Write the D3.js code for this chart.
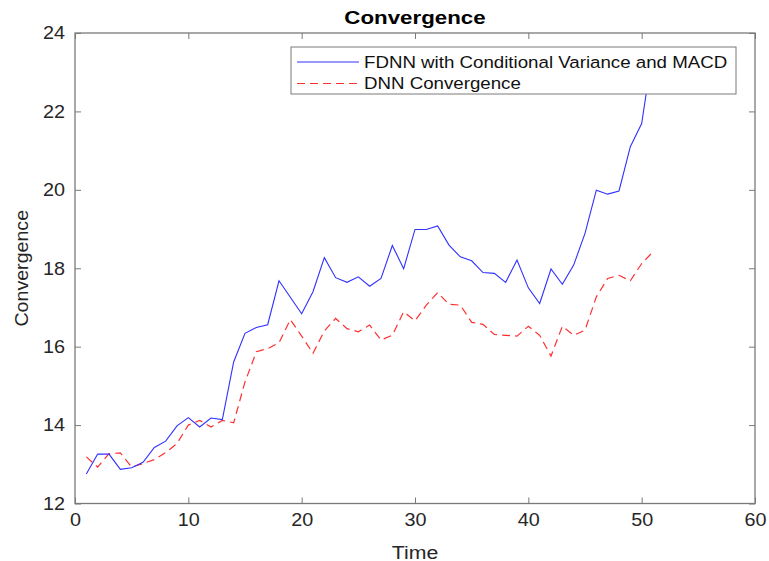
<!DOCTYPE html>
<meta charset="utf-8">
<script src="https://d3js.org/d3.v7.min.js"></script>
<style>
  body { margin: 0; background: #fff; }
  text { font-family: "Liberation Sans", Arial, sans-serif; }
</style>
<div id="chart"></div>
<script>

    // data
    var time = d3.range(1, 52);
    var fdnn = [12.75, 13.26, 13.26, 12.87, 12.91, 13.05, 13.43, 13.59, 13.98, 14.19,
                13.95, 14.18, 14.14, 15.61, 16.34, 16.49, 16.56, 17.68, 17.26, 16.84,
                17.40, 18.27, 17.76, 17.64, 17.78, 17.54, 17.74, 18.58, 17.99, 18.99,
                18.99, 19.08, 18.59, 18.29, 18.19, 17.89, 17.87, 17.64, 18.21, 17.50,
                17.10, 17.98, 17.59, 18.08, 18.89, 19.99, 19.89, 19.97, 21.10, 21.69,
                23.60];
    var dnn = [13.19, 12.93, 13.27, 13.29, 12.93, 13.02, 13.12, 13.30, 13.53, 14.00,
               14.12, 13.95, 14.12, 14.06, 15.10, 15.87, 15.95, 16.10, 16.69, 16.27,
               15.83, 16.40, 16.72, 16.46, 16.38, 16.55, 16.17, 16.29, 16.89, 16.66,
               17.06, 17.38, 17.08, 17.06, 16.62, 16.57, 16.31, 16.29, 16.27, 16.52,
               16.29, 15.76, 16.52, 16.29, 16.42, 17.27, 17.74, 17.82, 17.68, 18.12,
               18.42];
    var xTicks = [0, 10, 20, 30, 40, 50, 60];
    var yTicks = [12, 14, 16, 18, 20, 22, 24];
    var seriesNames = ["FDNN with Conditional Variance and MACD", "DNN Convergence"];

    var margin = {top: 33, right: 14, bottom: 58, left: 75},
        width = 755 - margin.left,
        height = 503.5 - margin.top;

    var svg = d3.select("#chart")
        .append("svg")
            .attr("width", 769)
            .attr("height", 561)
        .append("g")
            .attr("transform", "translate(" + margin.left + "," + margin.top + ")");

    var x = d3.scaleLinear().domain([0, 60]).range([0, width]);
    var y = d3.scaleLinear().domain([12, 24]).range([height, 0]);

    var axisColor = "#7a7a7a";
    var textColor = "#262626";
    var blue = "#3030ff";
    var red = "#ff3030";
    // the picture's text is a bit wider than the font, so stretch it sideways
    var stretch = 1.1;

    // lines
    var line = d3.line()
        .x(function(d, i) { return x(time[i]); })
        .y(function(d) { return y(d); });

    svg.append("path")
        .datum(dnn)
        .attr("fill", "none")
        .attr("stroke", red)
        .attr("stroke-width", 1.2)
        .attr("stroke-dasharray", "8,5")
        .attr("d", line);

    svg.append("path")
        .datum(fdnn)
        .attr("fill", "none")
        .attr("stroke", blue)
        .attr("stroke-width", 1.1)
        .attr("d", line);

    // axes (ticks inside, box around)
    function styleAxis(g) {
        g.select(".domain").remove();
        g.selectAll(".tick line").attr("stroke", axisColor);
        g.selectAll(".tick text")
            .attr("fill", textColor)
            .attr("transform", "scale(" + stretch + ",1)")
            .style("font-size", "18px");
    }

    svg.append("g")
        .attr("transform", "translate(0," + height + ")")
        .call(d3.axisBottom(x).tickValues(xTicks).tickSizeInner(-6).tickSizeOuter(0).tickPadding(10))
        .call(styleAxis);

    svg.append("g")
        .call(d3.axisTop(x).tickValues(xTicks).tickSizeInner(-6).tickSizeOuter(0).tickFormat(""))
        .call(styleAxis);

    svg.append("g")
        .call(d3.axisLeft(y).tickValues(yTicks).tickSizeInner(-6).tickSizeOuter(0).tickPadding(9))
        .call(styleAxis);

    svg.append("g")
        .attr("transform", "translate(" + width + ",0)")
        .call(d3.axisRight(y).tickValues(yTicks).tickSizeInner(-6).tickSizeOuter(0).tickFormat(""))
        .call(styleAxis);

    svg.append("rect")
        .attr("width", width)
        .attr("height", height)
        .attr("fill", "none")
        .attr("stroke", axisColor)
        .attr("stroke-width", 1.3);

    // legend
    var legend = svg.append("g")
        .attr("transform", "translate(" + (291 - margin.left) + "," + (47 - margin.top) + ")");

    legend.append("rect")
        .attr("width", 445)
        .attr("height", 47)
        .attr("fill", "#fff")
        .attr("stroke", axisColor)
        .attr("stroke-width", 1);

    var legendStyles = [
        {color: blue, dash: null},
        {color: red, dash: "8,5"}
    ];

    seriesNames.forEach(function(name, i) {
        var ly = 15 + i * 21.5;
        legend.append("line")
            .attr("x1", 6).attr("x2", 68)
            .attr("y1", ly).attr("y2", ly)
            .attr("stroke", legendStyles[i].color)
            .attr("stroke-width", 1)
            .attr("stroke-dasharray", legendStyles[i].dash);
        legend.append("text")
            .attr("transform", "translate(73," + ly + ") scale(" + stretch + ",1)")
            .attr("dy", "0.35em")
            .attr("fill", "#111")
            .style("font-size", "17px")
            .text(name);
    });

    // labels
    svg.append("text")
        .attr("transform", "translate(" + (width / 2) + ",-9) scale(1.24,1)")
        .attr("text-anchor", "middle")
        .attr("fill", "#000")
        .style("font-size", "18px")
        .style("font-weight", "bold")
        .text("Convergence");

    svg.append("text")
        .attr("transform", "translate(" + (width / 2) + "," + (height + 55) + ") scale(1.12,1)")
        .attr("text-anchor", "middle")
        .attr("fill", textColor)
        .style("font-size", "19px")
        .text("Time");

    svg.append("text")
        .attr("transform", "translate(" + (-47) + "," + (height / 2) + ") rotate(-90) scale(1.09,1)")
        .attr("text-anchor", "middle")
        .attr("fill", textColor)
        .style("font-size", "18px")
        .text("Convergence");

</script>
